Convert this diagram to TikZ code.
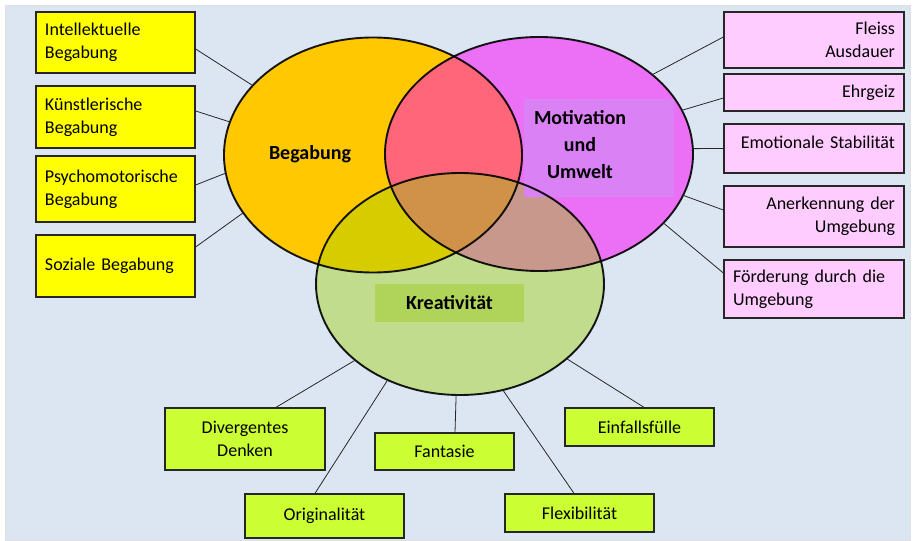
\documentclass[tikz,border=0pt]{standalone}
\usepackage{fontspec}
\setmainfont{Carlito}
\newcommand*{\boxfont}{\fontsize{18}{23}\selectfont}
\newcommand*{\titlefont}{\fontsize{20}{27}\selectfont\bfseries}
\definecolor{bg}{RGB}{220,230,242}
\definecolor{B}{RGB}{255,200,0}
\definecolor{M}{RGB}{236,112,245}
\definecolor{K}{RGB}{192,220,140}
\definecolor{BM}{RGB}{255,102,122}
\definecolor{BK}{RGB}{214,204,0}
\definecolor{MK}{RGB}{200,152,140}
\definecolor{BMK}{RGB}{208,146,72}
\definecolor{Mlabel}{RGB}{218,130,245}
\definecolor{Klabel}{RGB}{176,212,90}
\definecolor{yellowbox}{RGB}{255,255,0}
\definecolor{pinkbox}{RGB}{255,204,255}
\definecolor{greenbox}{RGB}{204,255,51}
\usepackage{tikz}
\usetikzlibrary{shapes.geometric}
\tikzstyle{base}=[x=1pt, y=-1pt]
\tikzstyle{ring}=[ellipse, draw=black, draw opacity=0.9, line width=1.9pt, inner sep=0pt, outer sep=0pt]
\tikzstyle{box}=[rectangle, draw=black!85, line width=1.3pt, inner xsep=9pt, inner ysep=0pt]
\tikzstyle{ybox}=[box, fill=yellowbox, text width=141pt, align=left]
\tikzstyle{pbox}=[box, fill=pinkbox, text width=162pt, align=right]
\tikzstyle{gbox}=[box, fill=greenbox, align=center]
\tikzstyle{link}=[black!85, line width=0.8pt]
\newcommand*{\ringB}{(373,155) ellipse [x radius=149pt, y radius=117.5pt]}
\newcommand*{\ringM}{(539,154) ellipse [x radius=154pt, y radius=117pt]}
\newcommand*{\ringK}{(460,284) ellipse [x radius=144pt, y radius=111pt]}

\begin{document}
\begin{tikzpicture}[base]
    \boxfont
        \fill [bg, draw=black!12] (5,5) rectangle (910,540);
        \fill [B] \ringB;
        \fill [M] \ringM;
        \fill [K] \ringK;
        \begin{scope}
            \clip \ringB;
            \fill [BM] \ringM;
            \fill [BK] \ringK;
        \end{scope}
        \begin{scope}
            \clip \ringM;
            \fill [MK] \ringK;
            \clip \ringB;
            \fill [BMK] \ringK;
        \end{scope}
        \node [fill=Mlabel, minimum width=150pt, minimum height=98pt] (motbox) at (599,148) {};
        \node [ring, minimum width=298pt, minimum height=235pt] (begabung) at (373,155) {};
        \node [ring, minimum width=308pt, minimum height=234pt] (motivation) at (539,154) {};
        \node [ring, minimum width=288pt, minimum height=222pt] (kreativ) at (460,284) {};
        \node [fill=Klabel, minimum width=149pt, minimum height=38pt, font=\titlefont] (kretext) at (449.5,303) {Kreativität};
        \node [font=\titlefont] (begtext) at (310,154) {Begabung};
        \node [font=\titlefont, align=center] (mottext) at (580,145) {Motivation\\und\\Umwelt};

        \node [ybox, minimum height=61pt] (int) at (115.5,42.5) {Intellektuelle\\Begabung};
        \node [ybox, minimum height=62pt] (kue) at (115.5,117) {Künstlerische\\Begabung};
        \node [ybox, minimum height=66pt] (psy) at (115.5,189) {Psychomotorische\\Begabung};
        \node [ybox, minimum height=62pt] (soz) at (115.5,266) {Soziale Begabung};

        \node [pbox, minimum height=56pt] (fle) at (814,40) {Fleiss\\Ausdauer};
        \node [pbox, minimum height=37pt] (ehr) at (814,92.5) {Ehrgeiz};
        \node [pbox, minimum height=49pt, text depth=13pt] (emo) at (814,148.5) {Emotionale Stabilität};
        \node [pbox, minimum height=61pt] (ane) at (814,216.5) {Anerkennung der\\Umgebung};
        \node [pbox, minimum height=58pt, align=left] (foe) at (814,289) {Förderung durch die\\Umgebung};

        \node [gbox, minimum width=160pt, minimum height=62pt] (div) at (245,439) {Divergentes\\Denken};
        \node [gbox, minimum width=159pt, minimum height=44pt] (ori) at (324.5,516) {Originalität};
        \node [gbox, minimum width=139pt, minimum height=37pt] (fan) at (444.5,451.5) {Fantasie};
        \node [gbox, minimum width=149pt, minimum height=38pt] (flx) at (579.5,513) {Flexibilität};
        \node [gbox, minimum width=149pt, minimum height=38pt] (ein) at (639.5,427) {Einfallsfülle};

        \draw [link] ([yshift=-6.5pt]int.east) -- (begabung.150);
        \draw [link] ([yshift=6pt]kue.east) -- (begabung.167);
        \draw [link] ([yshift=4pt]psy.east) -- (begabung.-173);
        \draw [link] ([yshift=19pt]soz.east) -- (begabung.-156);

        \draw [link] ([yshift=3pt]fle.west) -- (motivation.35);
        \draw [link] ([yshift=-5.5pt]ehr.west) -- (motivation.17);
        \draw [link] (emo.west) -- (motivation.2);
        \draw [link] ([yshift=6.5pt]ane.west) -- (motivation.-16);
        \draw [link] ([yshift=16pt]foe.west) -- (motivation.-29);

        \draw [link] ([xshift=31pt]div.north) -- (kreativ.-144);
        \draw [link] ([xshift=-9.5pt]ori.north) -- (kreativ.-127);
        \draw [link] ([xshift=10.5pt]fan.north) -- (kreativ.-92);
        \draw [link] ([xshift=-5.5pt]flx.north) -- (kreativ.-68);
        \draw [link] ([xshift=4.5pt]ein.north) -- (kreativ.-35);
        \path [use as bounding box] (0,0) rectangle (914,540);
    \end{tikzpicture}
\end{document}
